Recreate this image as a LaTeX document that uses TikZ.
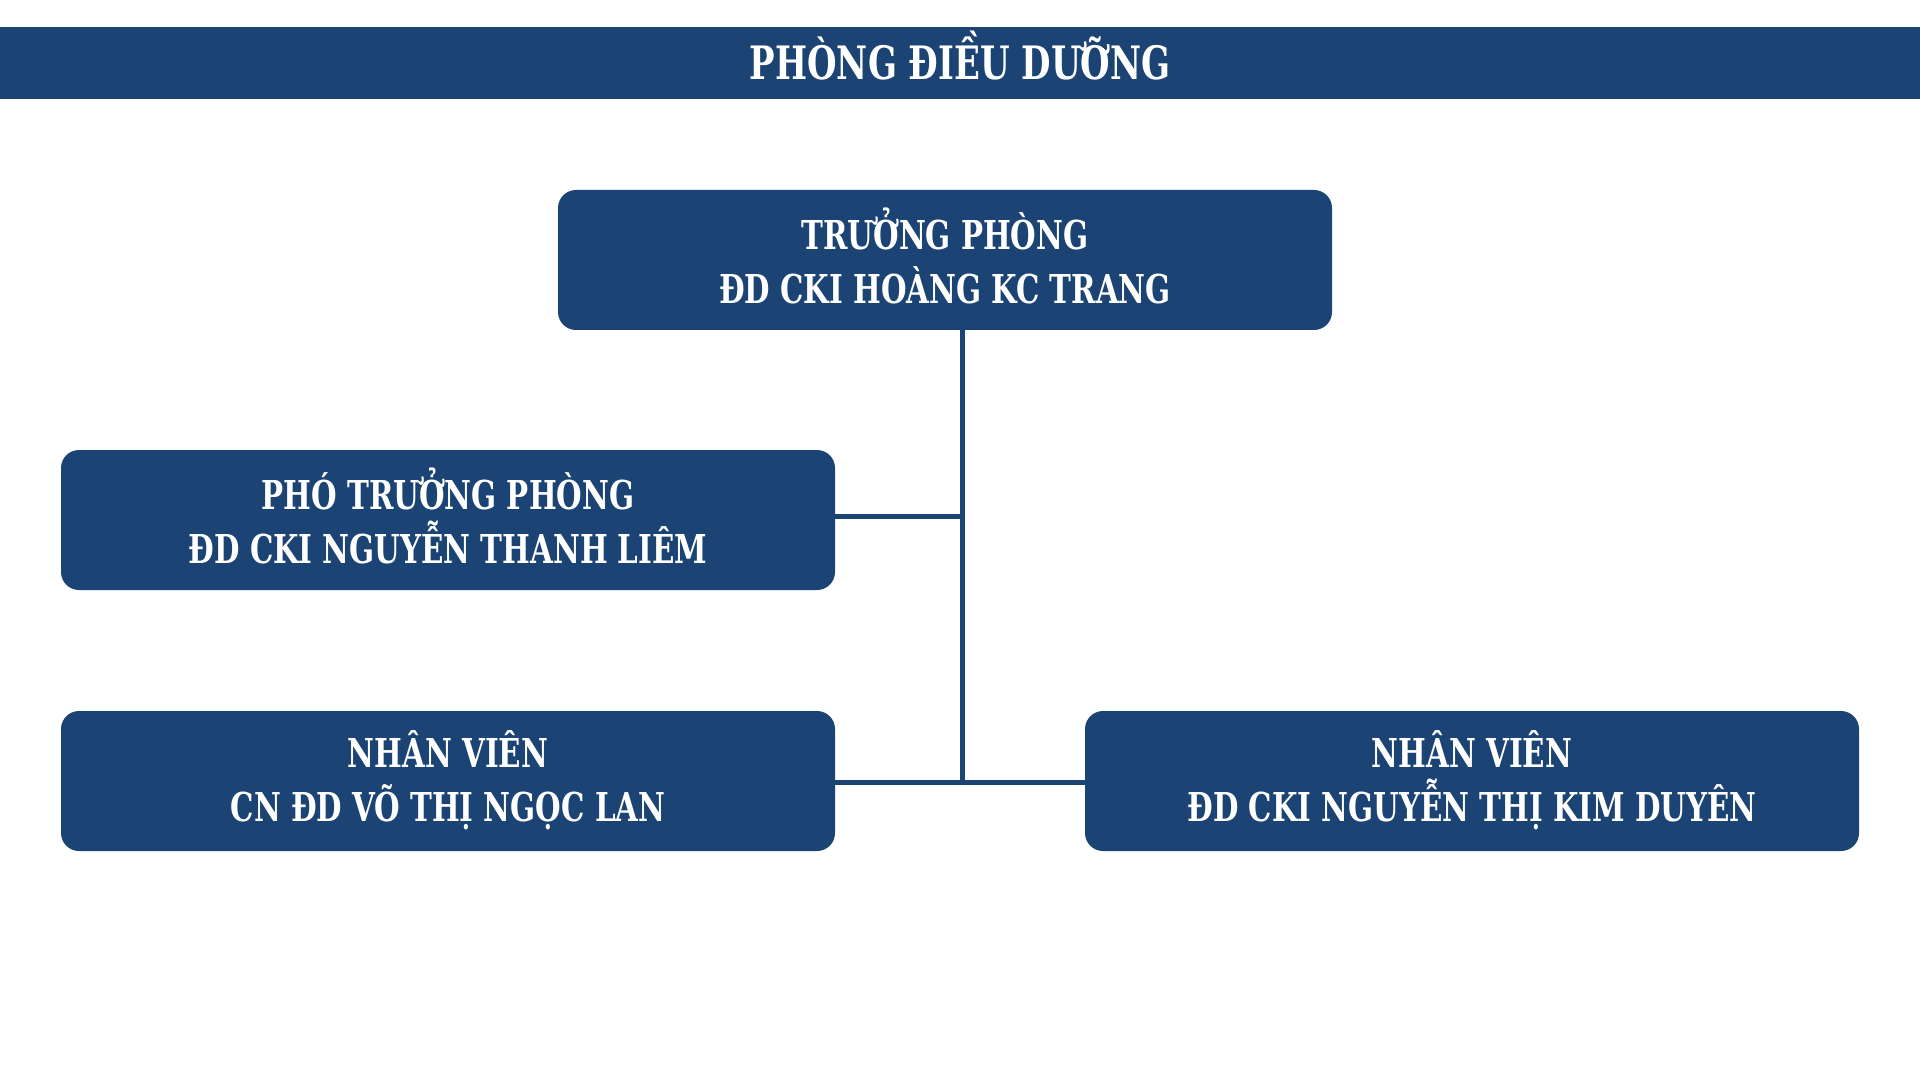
\documentclass[tikz,border=0pt]{standalone}
\usepackage{fontspec}
\setmainfont{DejaVu Serif Condensed}[FakeStretch=0.82]
\usetikzlibrary{positioning}
\definecolor{navy}{HTML}{1B4373}

\tikzset{
	orgbox/.style={draw=none, fill=navy, rounded corners=9pt, text=white,
		minimum width=387pt, minimum height=70pt, align=center,
		font=\bfseries\fontsize{19.9}{27}\selectfont,
		execute at end node={\rule[-4.5pt]{0pt}{0pt}}},
	link/.style={draw=navy, line width=2.5pt}
}

\begin{document}
\begin{tikzpicture}[x=0.5pt, y=-0.5pt]
		\fill[white] (0,0) rectangle (1920,1080);
		\useasboundingbox (0,0) rectangle (1920,1080);
		
		\node[fill=navy, minimum width=960pt, minimum height=36pt, inner sep=0pt, text height=16.8pt, text depth=0pt, text=white, font=\bfseries\fontsize{23}{28}\selectfont] (title) at (960,63){PHÒNG ĐIỀU DƯỠNG};
		
		\node[orgbox] (chief) at (945,260){TRƯỞNG PHÒNG\\ĐD CKI HOÀNG KC TRANG};
		\node[orgbox] (deputy) at (448,520){PHÓ TRƯỞNG PHÒNG\\ĐD CKI NGUYỄN THANH LIÊM};
		\node[orgbox] (staffL) at (448,781){NHÂN VIÊN\\CN ĐD VÕ THỊ NGỌC LAN};
		\node[orgbox] (staffR) at (1472,781){NHÂN VIÊN\\ĐD CKI NGUYỄN THỊ KIM DUYÊN};
		
		\coordinate (j1) at (962,516);
		\coordinate (j2) at (962,782);
		
		\draw[link] (chief.south -| j1) -- (j2);
		\draw[link] (deputy.east |- j1) -- (j1);
		\draw[link] (staffL.east |- j2) -- (staffR.west |- j2);
	\end{tikzpicture}
\end{document}
